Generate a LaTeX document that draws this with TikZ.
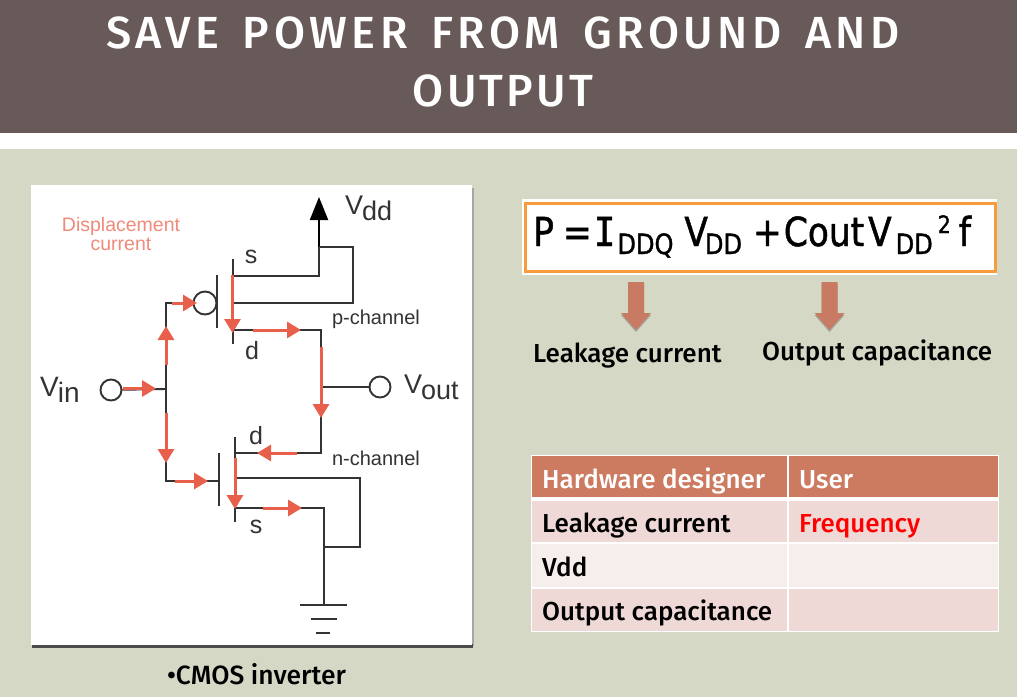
\documentclass[tikz,border=0pt]{standalone}
\usepackage{fontspec}
\setmainfont{Fira Sans}
\newfontfamily\titlefont[LetterSpace=10,WordSpace=1.5]{Fira Sans Medium}
\newfontfamily\titlefontb[LetterSpace=7]{Fira Sans Medium}
\newfontfamily\bodyfont{Fira Sans Medium}
\newfontfamily\circfont{Liberation Sans}
\newfontfamily\eqfont[FakeStretch=0.86,FakeBold=1.2]{DejaVu Sans}
\newfontfamily\eqserif[FakeStretch=0.9,FakeBold=1.2]{DejaVu Sans Mono}
\usetikzlibrary{arrows.meta}
\definecolor{slidebg}{HTML}{D5D8C5}
\definecolor{band}{HTML}{675A58}
\definecolor{wirec}{HTML}{333333}
\definecolor{redc}{HTML}{E8604C}
\definecolor{dispc}{HTML}{F08A7A}
\definecolor{orangec}{HTML}{F79B3C}
\definecolor{blockc}{HTML}{C97A62}
\definecolor{headc}{HTML}{CC7A60}
\definecolor{rowa}{HTML}{EFD9D6}
\definecolor{rowb}{HTML}{F6EEEB}
\tikzset{
  wire/.style={draw=wirec,line width=1.9pt},
  redarrow/.style={draw=redc,line width=3pt,-{Triangle[length=14pt,width=16pt,fill=redc]}},
  term/.style={circle,draw=wirec,line width=1.9pt,inner sep=0pt,minimum size=21pt,fill=white},
  circlabel/.style={font=\circfont,text=wirec,inner sep=0pt},
  ttext/.style={text=black,font=\bodyfont\fontsize{26}{26}\selectfont,inner sep=0pt,anchor=base west},
  titletext/.style={text=white,inner sep=0pt},
  blockarrow/.style={fill=blockc,draw=none},
}
\newcommand{\redarr}[3]{%
  \coordinate (#1s) at (#2); \coordinate (#1e) at (#3);
  \draw[redarrow] (#1s) -- (#1e);}
\newcommand{\eqsub}[1]{\raisebox{-8pt}{\fontsize{28}{28}\selectfont #1}}
\begin{document}
\begin{tikzpicture}[x=1pt,y=-1pt]
\useasboundingbox (0,0) rectangle (1017,697);
\fill[slidebg] (0,0) rectangle (1017,697);
\fill[band] (0,0) rectangle (1017,133);
\fill[white] (0,133) rectangle (1017,149);
\node[titletext,font=\titlefont\fontsize{45}{45}\selectfont] (t1) at (503,33) {SAVE POWER FROM GROUND AND};
\node[titletext,font=\titlefontb\fontsize{45}{45}\selectfont] (t2) at (503,91) {OUTPUT};
% panel
\fill[black!35] (33,188) rectangle (474,646);
\fill[black!70] (32,644) rectangle (473,648);
\node[fill=white,inner sep=0pt,minimum width=441pt,minimum height=460pt,anchor=north west] (panel) at (30.5,185) {};
\node[font=\circfont\fontsize{19.5}{20}\selectfont,text=dispc,inner sep=0pt] (disp1) at (121,226) {Displacement};
\node[font=\circfont\fontsize{19.5}{20}\selectfont,text=dispc,inner sep=0pt] (disp2) at (121,244) {current};
% key points
\coordinate (gj) at (166,389);
\coordinate (gt) at (166,303);
\coordinate (gb) at (166,481);
\node[term] (vin) at (111,390) {};
\node[term,minimum size=23pt] (bub) at (205,303) {};
\node[term] (vout) at (380,387) {};
\coordinate (pgu) at (217,275); \coordinate (pgd) at (217,328);
\coordinate (pcu) at (233,259); \coordinate (pcd) at (233,344);
\coordinate (ps) at (233,276); \coordinate (psr) at (319,276);
\coordinate (vddtip) at (319,197);
\coordinate (pb) at (233,303); \coordinate (pbr) at (353,303); \coordinate (pbt) at (353,247); \coordinate (vddb) at (319,247);
\coordinate (pd) at (233,330); \coordinate (pdr) at (321,330);
\coordinate (oj) at (321,387);
\coordinate (ndr) at (321,453); \coordinate (nd) at (235,453);
\coordinate (ncu) at (235,437); \coordinate (ncd) at (235,522);
\coordinate (ngu) at (219,453); \coordinate (ngd) at (219,506);
\coordinate (ng) at (219,481);
\coordinate (nb) at (235,478); \coordinate (nbr) at (360,478); \coordinate (nbb) at (360,547); \coordinate (gndj) at (324,547);
\coordinate (ns) at (235,508); \coordinate (nsr) at (324,508);
\coordinate (gnd) at (324,605);
\coordinate (g1l) at (300,605); \coordinate (g1r) at (347,605);
\coordinate (g2l) at (311,619); \coordinate (g2r) at (337,619);
\coordinate (g3l) at (316,633); \coordinate (g3r) at (330,633);
% wires
\draw[wire] (vin) -- (gj);
\draw[wire] (bub) -- (gt) -- (gb) -- (ng);
\draw[wire] (pgu) -- (pgd);
\draw[wire] (pcu) -- (pcd);
\draw[wire] (ps) -- (psr) -- (vddb);
\draw[draw=black,line width=2pt,-{Triangle[length=23pt,width=18pt,fill=black]}] (vddb) -- (vddtip);
\draw[wire] (pb) -- (pbr) -- (pbt) -- (vddb);
\draw[wire] (pd) -- (pdr) -- (ndr) -- (nd);
\draw[wire] (oj) -- (vout);
\draw[wire] (ncu) -- (ncd);
\draw[wire] (ngu) -- (ngd);
\draw[wire] (nb) -- (nbr) -- (nbb) -- (gndj);
\draw[wire] (ns) -- (nsr) -- (gnd);
\draw[wire] (g1l) -- (g1r);
\draw[wire] (g2l) -- (g2r);
\draw[wire] (g3l) -- (g3r);
% red arrows
\redarr{ra}{123,388.5}{156,388.5}
\redarr{rb}{166,365}{166,326}
\redarr{rc}{172,303}{197,303}
\redarr{rd}{232.5,275}{232.5,333}
\redarr{re}{253,330}{301,330}
\redarr{rf}{321,347}{321,418}
\redarr{rg}{297,453}{257,453}
\redarr{rh}{166,413}{166,463}
\redarr{ri}{175,481}{208,481}
\redarr{rj}{235,458}{235,509}
\redarr{rk}{263,508}{302,508}
% circuit labels
\node[circlabel,font=\circfont\fontsize{25}{25}\selectfont] (ls1) at (251,257) {s};
\node[circlabel,font=\circfont\fontsize{25}{25}\selectfont] (ld1) at (252,351) {d};
\node[circlabel,font=\circfont\fontsize{25}{25}\selectfont] (ld2) at (256,436) {d};
\node[circlabel,font=\circfont\fontsize{25}{25}\selectfont] (ls2) at (256,527) {s};
\node[circlabel,font=\circfont\fontsize{20}{20}\selectfont] (pch) at (376,319) {p-channel};
\node[circlabel,font=\circfont\fontsize{20}{20}\selectfont] (nch) at (376,458) {n-channel};
\node[circlabel,anchor=base west,font=\circfont\fontsize{27}{27}\selectfont] (lvdd) at (345,214) {V\kern-1pt\raisebox{-6pt}{dd}};
\node[circlabel,anchor=base west,font=\circfont\fontsize{28}{28}\selectfont] (lvin) at (40,396) {V\kern-1pt\raisebox{-6pt}{in}};
\node[circlabel,anchor=base west,font=\circfont\fontsize{27}{27}\selectfont] (lvout) at (404,393) {V\kern-1pt\raisebox{-6pt}{out}};
\node[ttext,anchor=base,font=\bodyfont\fontsize{26.4}{27}\selectfont] (cmos) at (256.5,684) {•CMOS inverter};
% formula
\node[fill=white,inner sep=0pt,minimum width=475pt,minimum height=76pt,anchor=north west] (eqbg) at (522,199) {};
\node[draw=orangec,line width=2.5pt,inner sep=0pt,minimum width=470pt,minimum height=68pt,anchor=north west] (eqbox) at (524,202) {};
\node[inner sep=0pt,anchor=base west,font=\eqfont\fontsize{40}{40}\selectfont] (eq) at (533,246)
 {P\kern9pt=\kern2pt{\eqserif I}\kern2pt\eqsub{DDQ} V\kern-3pt\eqsub{DD}\kern11pt+\kern2pt Cout\kern-7pt{} V\kern4pt\eqsub{DD}\kern5pt\raisebox{13pt}{\fontsize{24}{24}\selectfont 2}\kern-3pt{} f};
% block arrows
\foreach \nm/\cx in {la/636,lb/829.5}{
  \fill[black!55,opacity=.5] (\cx-8,284) -- (\cx+8,284) -- (\cx+8,315) -- (\cx+15,315) -- (\cx,332) -- (\cx-15,315) -- (\cx-8,315) -- cycle;
  \fill[blockc] (\cx-8,282) -- (\cx+8,282) -- (\cx+8,313) -- (\cx+15,313) -- (\cx,330) -- (\cx-15,313) -- (\cx-8,313) -- cycle;
}
\node[ttext] (leak) at (533,362) {Leakage current};
\node[ttext] (outc) at (762,360) {Output capacitance};
% table
\fill[white] (531,455) rectangle (999,632);
\fill[headc] (532,456) rectangle (787,497); \fill[headc] (789,456) rectangle (998,497);
\fill[rowa] (532,501) rectangle (787,542); \fill[rowa] (789,501) rectangle (998,542);
\fill[rowb] (532,544) rectangle (787,587); \fill[rowb] (789,544) rectangle (998,587);
\fill[rowa] (532,589) rectangle (787,631); \fill[rowa] (789,589) rectangle (998,631);
\node[ttext,text=white] (th1) at (542,488) {Hardware designer};
\node[ttext,text=white] (th2) at (799,488) {User};
\node[ttext] (c1) at (542,532) {Leakage current};
\node[ttext,text=red] (c2) at (799,532) {Frequency};
\node[ttext] (c3) at (542,576) {Vdd};
\node[ttext] (c4) at (542,620) {Output capacitance};
\end{tikzpicture}
\end{document}
